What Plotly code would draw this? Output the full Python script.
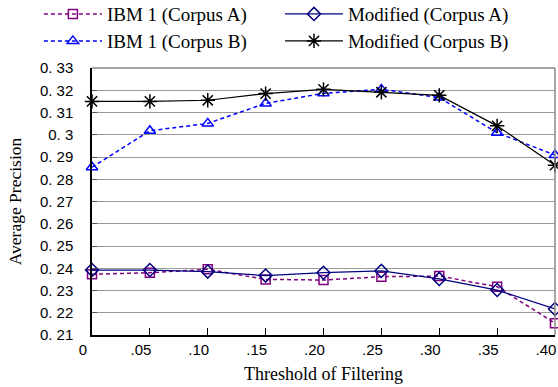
import plotly.graph_objects as go

thresholds = [0, 0.05, 0.10, 0.15, 0.20, 0.25, 0.30, 0.35, 0.40]
x_tick_labels = ["0", ".05", ".10", ".15", ".20", ".25", ".30", ".35", ".40"]
ibm_a = [0.2373, 0.2380, 0.2395, 0.2350, 0.2347, 0.2362, 0.2365, 0.2317, 0.2153]
mod_a = [0.2392, 0.2392, 0.2385, 0.2367, 0.2380, 0.2388, 0.2352, 0.2302, 0.2217]
ibm_b = [0.2854, 0.3018, 0.3051, 0.3141, 0.3186, 0.3204, 0.3167, 0.3009, 0.2909]
mod_b = [0.3150, 0.3150, 0.3155, 0.3185, 0.3204, 0.3191, 0.3177, 0.3040, 0.2863]
y_tick_vals = [0.21, 0.22, 0.23, 0.24, 0.25, 0.26, 0.27, 0.28, 0.29, 0.30, 0.31, 0.32, 0.33]
y_tick_labels = ["0. 21", "0. 22", "0. 23", "0. 24", "0. 25", "0. 26", "0. 27",
                 "0. 28", "0. 29", "0. 3", "0. 31", "0. 32", "0. 33"]

serif = "Liberation Serif, Times New Roman, serif"
sans = "Liberation Sans, Arial, sans-serif"

fig = go.Figure()
fig.add_trace(go.Scatter(x=thresholds, y=ibm_a, name="IBM 1 (Corpus A)", mode="lines+markers",
                         line=dict(color="#800080", width=1.5, dash="4px,3px"),
                         marker=dict(symbol="square-open", size=9, color="#800080", line=dict(width=1.5)),
                         cliponaxis=False, legend="legend"))
fig.add_trace(go.Scatter(x=thresholds, y=mod_a, name="Modified (Corpus A)", mode="lines+markers",
                         line=dict(color="#000080", width=1.2),
                         marker=dict(symbol="diamond-open", size=10, color="#000080", line=dict(width=1.5)),
                         cliponaxis=False, legend="legend2"))
fig.add_trace(go.Scatter(x=thresholds, y=ibm_b, name="IBM 1 (Corpus B)", mode="lines+markers",
                         line=dict(color="#0000FF", width=1.5, dash="4px,3px"),
                         marker=dict(symbol="triangle-up-open", size=10, color="#0000FF", line=dict(width=1.5)),
                         cliponaxis=False, legend="legend3"))
fig.add_trace(go.Scatter(x=thresholds, y=mod_b, name="Modified (Corpus B)", mode="lines+markers",
                         line=dict(color="#000000", width=1.2),
                         marker=dict(symbol="asterisk-open", size=12, color="#000000", line=dict(width=1.5)),
                         cliponaxis=False, legend="legend4"))

def leg(x, y):
    return dict(x=x, y=y, xref="paper", yref="paper", xanchor="left", yanchor="middle",
                font=dict(family=serif, size=19, color="black"), bgcolor="rgba(0,0,0,0)",
                itemwidth=58, borderwidth=0)

fig.update_layout(
    width=558, height=387,
    margin=dict(l=92, r=3, t=68, b=52, autoexpand=False),
    paper_bgcolor="white", plot_bgcolor="white",
    legend=leg(-0.1147, 1.202),
    legend2=leg(0.406, 1.202),
    legend3=leg(-0.1147, 1.101),
    legend4=leg(0.406, 1.101),
    xaxis=dict(range=[0, 0.40], tickvals=thresholds, ticktext=x_tick_labels,
               showgrid=False, zeroline=False, showline=True, linecolor="black", linewidth=1.5,
               mirror=False, ticks="inside", ticklen=7, tickcolor="black", automargin=False,
               tickfont=dict(family=sans, size=15, color="black"), ticklabelshift=-9,
               ticklabeloverflow="allow",
               title=dict(text="Threshold of Filtering", font=dict(family=serif, size=18, color="black"),
                          standoff=11)),
    yaxis=dict(range=[0.21, 0.33], tickvals=y_tick_vals, ticktext=y_tick_labels,
               showgrid=True, gridcolor="#999999", gridwidth=1, zeroline=False, automargin=False,
               showline=True, linecolor="black", linewidth=1.5, ticks="inside", ticklen=5,
               tickcolor="#555555", ticklabelstandoff=14,
               tickfont=dict(family=sans, size=15, color="black"),
               title=dict(text="Average Precision", font=dict(family=serif, size=17.5, color="black"),
                          standoff=14)),
    showlegend=True,
)
# grey frame on top and right
fig.add_shape(type="line", xref="paper", yref="paper", x0=0, x1=1, y0=1, y1=1,
              line=dict(color="#888888", width=1.5))
fig.add_shape(type="line", xref="paper", yref="paper", x0=1, x1=1, y0=0, y1=1,
              line=dict(color="#888888", width=1.5))

fig.write_html("out.html", config={"displayModeBar": False},
               post_script="document.body.style.margin='0';document.body.style.padding='0';")
